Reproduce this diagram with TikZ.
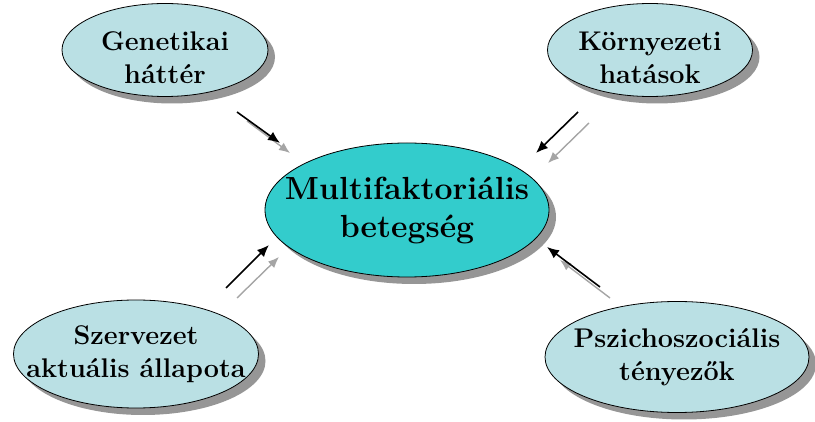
\documentclass[tikz,border=0pt]{standalone}
\usepackage{fontspec}
\usetikzlibrary{shapes.geometric,shadows,arrows.meta}
\definecolor{cyanlight}{RGB}{186,224,228}
\definecolor{tealc}{RGB}{51,204,204}
\definecolor{shadowc}{RGB}{150,150,150}
\definecolor{grayarrow}{RGB}{165,165,165}
\begin{document}
\begin{tikzpicture}[x=1pt,y=-1pt,
  ellbase/.style={ellipse, draw=black, line width=0.8pt, inner xsep=-60pt, inner ysep=-30pt, align=center,
    drop shadow={shadow xshift=7pt, shadow yshift=-7pt, fill=shadowc, opacity=1}},
  outer/.style={ellbase, fill=cyanlight, font=\bfseries\fontsize{27}{33}\selectfont},
  lowtext/.style={text height=67pt},
  inner/.style={ellbase, fill=tealc, font=\bfseries\fontsize{32}{38}\selectfont},
  blackarrow/.style={draw=black, line width=1.6pt, -{Latex[length=12pt,width=10pt]}},
  grayarr/.style={draw=grayarrow, line width=1.4pt, -{Latex[length=11pt,width=9pt]}}
]
\useasboundingbox (0,0) rectangle (815,422);

\node[inner, minimum width=284pt, minimum height=134pt] (center) at (407,210) {Multifaktoriális\\betegség};
\node[outer, lowtext, minimum width=206pt, minimum height=93pt] (gen) at (165,50) {Genetikai\\háttér};
\node[outer, lowtext, minimum width=205pt, minimum height=93pt] (korny) at (650,50) {Környezeti\\hatások};
\node[outer, minimum width=245pt, minimum height=108pt] (szerv) at (136,354) {Szervezet\\aktuális állapota};
\node[outer, minimum width=264pt, minimum height=111pt] (pszich) at (677,357) {Pszichoszociális\\tényezők};

% top-left
\coordinate (tlGs) at (247,121); \coordinate (tlGe) at (290,153);
\coordinate (tlBs) at (237,112); \coordinate (tlBe) at (280,143);
\draw[grayarr] (tlGs) -- (tlGe);
\draw[blackarrow] (tlBs) -- (tlBe);
% top-right
\coordinate (trGs) at (589,123); \coordinate (trGe) at (548,163);
\coordinate (trBs) at (578,112); \coordinate (trBe) at (536,153);
\draw[grayarr] (trGs) -- (trGe);
\draw[blackarrow] (trBs) -- (trBe);
% bottom-left
\coordinate (blGs) at (237,298); \coordinate (blGe) at (279,257);
\coordinate (blBs) at (226,288); \coordinate (blBe) at (269,245);
\draw[grayarr] (blGs) -- (blGe);
\draw[blackarrow] (blBs) -- (blBe);
% bottom-right
\coordinate (brGs) at (610,298); \coordinate (brGe) at (560,260);
\coordinate (brBs) at (600,287); \coordinate (brBe) at (547,247);
\draw[grayarr] (brGs) -- (brGe);
\draw[blackarrow] (brBs) -- (brBe);
\end{tikzpicture}
\end{document}
